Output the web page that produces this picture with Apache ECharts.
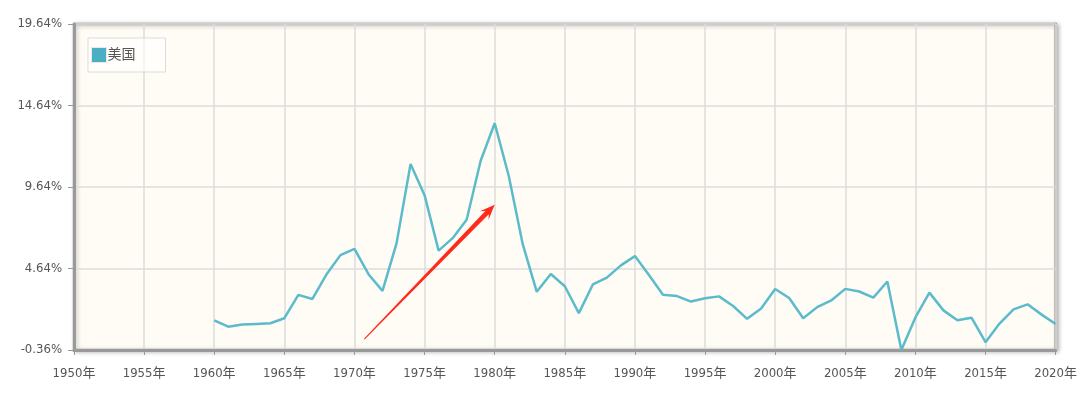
<!DOCTYPE html>
<html>
<head>
<meta charset="utf-8">
<script src="https://cdn.jsdelivr.net/npm/echarts@6/dist/echarts.min.js"></script>
<style>
html,body{margin:0;padding:0;background:#fff;}
#c{width:1080px;height:393px;}
</style>
</head>
<body>
<div id="c"></div>
<script>
var seriesName = '美国';
var years = [1960,1961,1962,1963,1964,1965,1966,1967,1968,1969,1970,1971,1972,1973,1974,1975,1976,1977,1978,1979,1980,1981,1982,1983,1984,1985,1986,1987,1988,1989,1990,1991,1992,1993,1994,1995,1996,1997,1998,1999,2000,2001,2002,2003,2004,2005,2006,2007,2008,2009,2010,2011,2012,2013,2014,2015,2016,2017,2018,2019,2020];
var inflation = [1.46,1.07,1.20,1.24,1.28,1.59,3.02,2.77,4.27,5.46,5.84,4.29,3.27,6.18,11.05,9.14,5.74,6.50,7.63,11.25,13.55,10.33,6.13,3.21,4.30,3.55,1.90,3.66,4.08,4.83,5.40,4.24,3.03,2.95,2.61,2.81,2.93,2.34,1.55,2.19,3.38,2.83,1.59,2.27,2.68,3.39,3.23,2.85,3.84,-0.36,1.64,3.16,2.07,1.46,1.62,0.12,1.26,2.13,2.44,1.81,1.23];
var yTicks = [-0.36, 4.64, 9.64, 14.64, 19.64];
var xMin = 1950, xMax = 2020, xStep = 5;
// annotation arrow: [tailYear, tailValue, headYear, headValue]
var arrow = [[1970.7, 0.31, 1980.0, 8.55]];

var lineData = years.map(function(y, i){ return [y, inflation[i]]; });
var font = 'Tahoma, "DejaVu Sans Condensed", "Liberation Sans", "Noto Sans CJK SC", sans-serif';

var chart = echarts.init(document.getElementById('c'), null, {renderer:'canvas'});
chart.setOption({
  backgroundColor: '#ffffff',
  animation: false,
  grid: {
    left: 74, right: 24, top: 24, bottom: 43,
    show: true,
    backgroundColor: '#fffcf5',
    borderColor: '#a0a0a0',
    borderWidth: 2.5,
    shadowColor: 'rgba(0,0,0,0.25)',
    shadowBlur: 4,
    shadowOffsetX: 2,
    shadowOffsetY: 1
  },
  legend: {
    left: 88, top: 38,
    orient: 'vertical',
    data: [{name: seriesName, icon: 'rect'}],
    itemWidth: 15, itemHeight: 15, itemGap: 4,
    padding: [9, 30, 9, 3],
    borderColor: '#dcdcdc', borderWidth: 1,
    backgroundColor: 'rgba(255,255,255,0.6)',
    textStyle: {color: '#555', fontSize: 14, fontFamily: font, padding: [0,0,0,-4]},
    itemStyle: {color: '#4bafc4', borderColor: '#e8e8e8', borderWidth: 1}
  },
  xAxis: {
    type: 'value',
    min: xMin, max: xMax, interval: xStep,
    axisLine: {show: true, onZero: false, lineStyle: {color: '#999', width: 3}},
    axisTick: {show: true, length: 5, lineStyle: {color: '#999', width: 1}},
    axisLabel: {color: '#555', fontSize: 13, fontFamily: font, margin: 17,
      formatter: function(v){ return v + '年'; }},
    splitLine: {show: true, lineStyle: {color: '#dcdcdc', width: 1.5}}
  },
  yAxis: {
    type: 'value',
    min: yTicks[0], max: yTicks[yTicks.length-1], interval: yTicks[1]-yTicks[0],
    axisLine: {show: true, onZero: false, lineStyle: {color: '#999', width: 3}},
    axisTick: {show: true, length: 6, lineStyle: {color: '#999', width: 1}},
    axisLabel: {color: '#555', fontSize: 13, fontFamily: font, margin: 12,
      formatter: function(v){ return v.toFixed(2) + '%'; }},
    splitLine: {show: true, lineStyle: {color: '#dcdcdc', width: 1.5}}
  },
  series: [
    {
      name: seriesName,
      type: 'line',
      data: lineData,
      showSymbol: false,
      symbol: 'none',
      color: '#4bafc4',
      lineStyle: {color: '#5bbbcb', width: 2.5},
      z: 3
    },
    {
      type: 'custom',
      data: arrow,
      silent: true,
      z: 4,
      encode: {x: [0, 2], y: [1, 3]},
      renderItem: function(params, api){
        var p0 = api.coord([api.value(0), api.value(1)]);
        var p1 = api.coord([api.value(2), api.value(3)]);
        var dx = p1[0]-p0[0], dy = p1[1]-p0[1];
        var L = Math.sqrt(dx*dx+dy*dy);
        var ux = dx/L, uy = dy/L, nx = -uy, ny = ux;
        var headLen = 15, headW = 6, neckW = 2.4, tailW = 0.5, notch = 4;
        var bx = p1[0]-ux*headLen, by = p1[1]-uy*headLen;
        var nbx = bx + ux*notch, nby = by + uy*notch;
        var pts = [
          [p0[0]+nx*tailW, p0[1]+ny*tailW],
          [nbx+nx*neckW, nby+ny*neckW],
          [bx+nx*headW, by+ny*headW],
          [p1[0], p1[1]],
          [bx-nx*headW, by-ny*headW],
          [nbx-nx*neckW, nby-ny*neckW],
          [p0[0]-nx*tailW, p0[1]-ny*tailW]
        ];
        return {type: 'polygon', shape: {points: pts}, style: {fill: '#ff2a1a'}};
      }
    }
  ]
});
</script>
</body>
</html>
